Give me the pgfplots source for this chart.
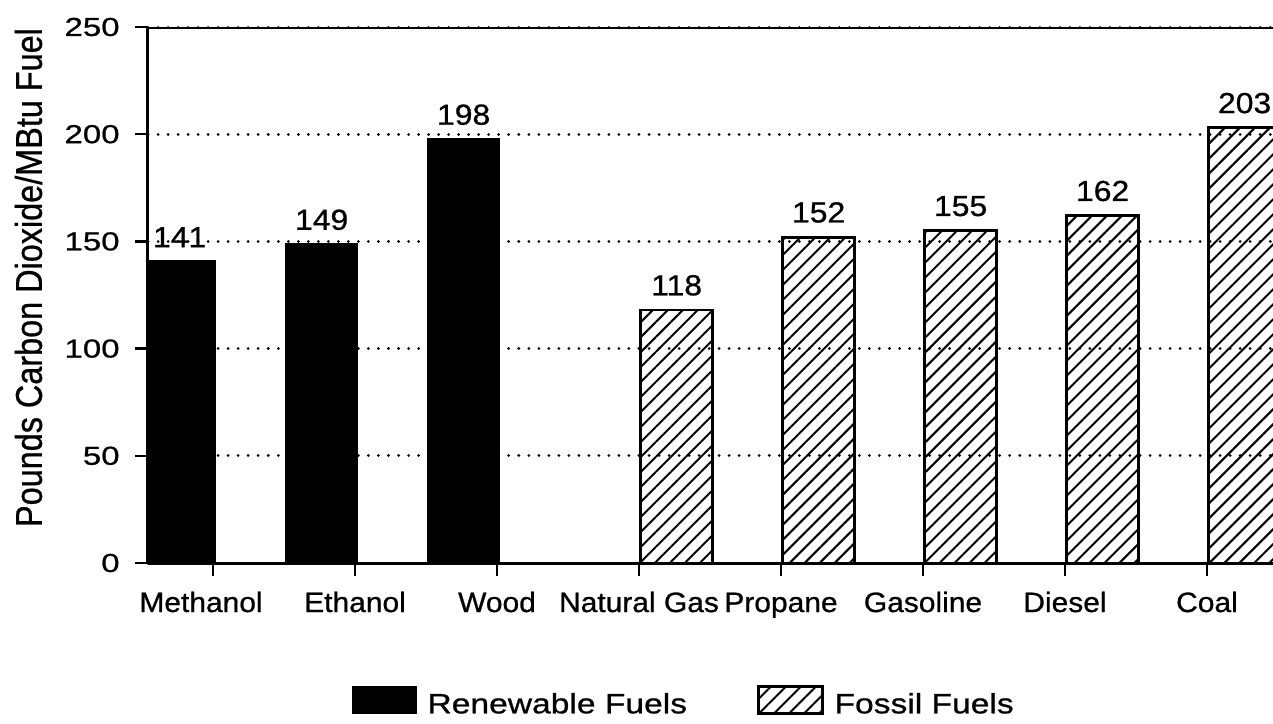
\documentclass[border=0pt]{standalone}
\usepackage{fontspec}
\usepackage{graphicx}
\usepackage{pgfplots}
\usepackage{pgfplotstable}
\pgfplotsset{compat=1.18}
\usetikzlibrary{patterns.meta}
\setmainfont[FakeBold=1.2]{Liberation Sans}
\newfontfamily\ylfont[FakeStretch=1.0,FakeBold=0.8]{Liberation Sans}
\newfontfamily\tickfont[FakeStretch=1.27,FakeBold=0.8]{Liberation Sans}
\newfontfamily\labfont[FakeStretch=1.07,FakeBold=0.8]{Liberation Sans}
\newfontfamily\valfont[FakeStretch=1.1,FakeBold=0.8]{Liberation Sans}
\newfontfamily\legfont[FakeStretch=1.2,FakeBold=0.8]{Liberation Sans}

\pgfplotstableread{
x y
1 141
2 149
3 198
}\renew
\pgfplotstableread{
x y
4 118
5 152
6 155
7 162
8 203
}\fossil

\begin{document}
\begin{tikzpicture}
\begin{axis}[
  scale only axis,
  width=562.5pt, height=268pt,
  xmin=0.542, xmax=8.465, ymin=0, ymax=250,
  axis lines*=left,
  axis line style={line width=1.5pt},
  tick align=outside,
  major tick length=6.5pt,
  every tick/.style={black, line width=1.2pt},
  xtick={1,...,8},
  xticklabels={\hspace*{-12pt}Methanol,Ethanol,Wood,Natural Gas,Propane,Gasoline,Diesel,Coal},
  ytick={0,50,...,250},
  /pgf/number format/assume math mode=true,
  yticklabel style={font=\tickfont\fontsize{13}{15}\selectfont, inner sep=0pt, anchor=east, xshift=-7.5pt},
  xticklabel style={font=\labfont\fontsize{14}{16}\selectfont, inner sep=0pt, anchor=north, yshift=-7.5pt, text height=10.3pt},
  ymajorgrids,
  grid style={black, line width=1.5pt, dash pattern=on 0.01pt off 5pt, line cap=round},
  axis on top,
  ybar, bar width=0.51,
  nodes near coords,
  every node near coord/.append style={font=\valfont\fontsize{14.5}{16}\selectfont, inner sep=0pt, anchor=south, yshift=6.5pt, black},
  ylabel={\scalebox{1}[1.15]{\ylfont\fontsize{16.2}{18}\selectfont Pounds Carbon Dioxide/MBtu Fuel}},
  ylabel style={at={(axis description cs:-0.1062,0.5327)}, anchor=center},
  legend style={at={(axis description cs:0.477,-0.261)}, anchor=center, draw=none,
    font=\legfont\fontsize{14}{16}\selectfont,
    /tikz/every odd column/.append style={column sep=3.5pt},
    /tikz/every even column/.append style={column sep=33pt}},
  legend columns=2,
]
\addplot[fill=black, draw=black, line width=0.5pt, bar shift=-0.235,
  legend image code/.code={\draw[fill=black,draw=black] (0pt,-4.5pt) rectangle (32pt,9pt);}]
  table[x=x,y=y] {\renew};
\addlegendentry{Renewable Fuels}
\addplot[draw=black, line width=1.4pt, bar shift=0.265,
  pattern={Lines[angle=45,distance=5.3pt,line width=1pt]},
  legend image code/.code={\draw[draw=black,line width=1.2pt,pattern={Lines[angle=45,distance=5.3pt,line width=1pt]}] (0pt,-4.5pt) rectangle (32pt,9pt);}]
  table[x=x,y=y] {\fossil};
\addlegendentry{Fossil Fuels}
\draw[line width=1.5pt] (rel axis cs:0,1) -- (rel axis cs:1,1);
\coordinate (bl) at (rel axis cs:0,0);
\coordinate (tr) at (rel axis cs:1,1);
\end{axis}
\pgfresetboundingbox
\path ([xshift=-74pt,yshift=-80pt]bl) rectangle ([yshift=13.5pt]tr);
\end{tikzpicture}
\end{document}
